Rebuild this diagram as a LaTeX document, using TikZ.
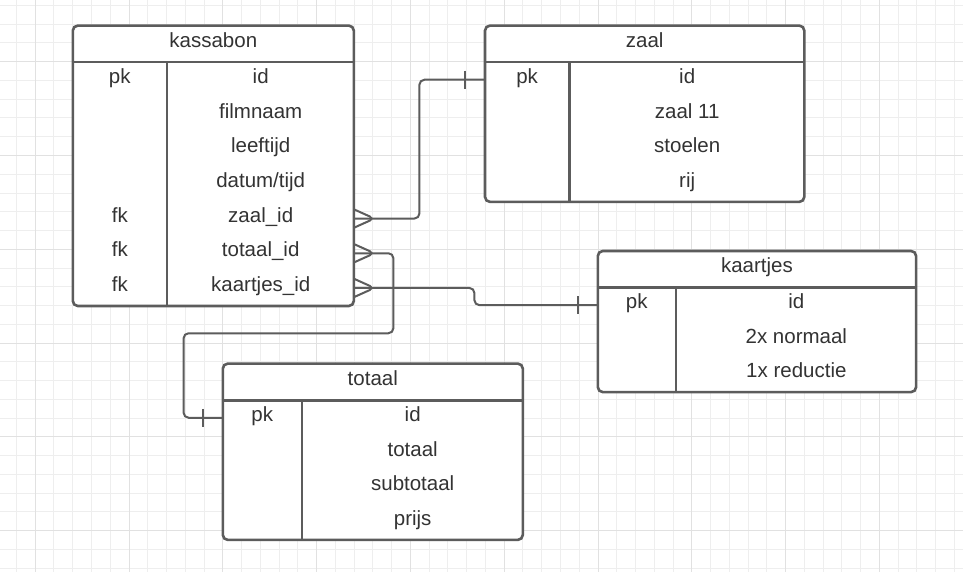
\documentclass[tikz,border=0pt]{standalone}
\usepackage{fontspec}
\setmainfont{Liberation Sans}
\usetikzlibrary{positioning}
\definecolor{ergrey}{RGB}{92,92,92}
\definecolor{ertext}{RGB}{51,51,51}
\definecolor{grminor}{RGB}{238,238,238}
\definecolor{grmajor}{RGB}{225,225,225}
\tikzset{
  tbl/.style={draw=ergrey, line width=2.6pt, fill=white, rounded corners=5pt,
              inner sep=0pt, anchor=north west},
  hdr/.style={inner sep=0pt, text height=22.8pt, text depth=14.7pt,
              text=ertext, anchor=north},
  cell/.style={inner sep=0pt, text height=21pt, text depth=13.7pt, text=ertext},
  tblline/.style={draw=ergrey, line width=2.6pt},
  link/.style={draw=ergrey, line width=2pt, rounded corners=5pt},
  gminor/.style={draw=grminor, line width=1pt},
  gmajor/.style={draw=grmajor, line width=1pt},
  many/.pic={\draw[link] (0,-9) -- (20,0) -- (0,9);},
  one/.pic={\draw[link] (0,-9) -- (0,9);},
}
\begin{document}
\begin{tikzpicture}[x=1pt, y=-1pt, font=\fontsize{20.5}{24}\selectfont]
\useasboundingbox[fill=white] (0,0) rectangle (963,572);
% grid
\foreach \i in {-6,...,44}
  \draw[gminor] ({129+18.76*\i},0) -- ({129+18.76*\i},572);
\foreach \j in {-2,...,28}
  \draw[gminor] (0,{530.7-18.76*\j}) -- (963,{530.7-18.76*\j});
\foreach \i in {-1,...,8}
  \draw[gmajor] ({129+93.8*\i},0) -- ({129+93.8*\i},572);
\foreach \j in {0,...,5}
  \draw[gmajor] (0,{530.7-93.8*\j}) -- (963,{530.7-93.8*\j});

% kassabon
\node[tbl, minimum width=281, minimum height=280.4] (kassabon) at (71.5,24.3) {};
\node[hdr, minimum width=281] (kb) at (kassabon.north) {kassabon};
\foreach \k/\f [count=\i] in {pk/id, /filmnaam, /leeftijd, /datum\slash tijd,
    fk/zaal\_id, fk/totaal\_id, fk/kaartjes\_id} {
  \node[cell, minimum width=94, anchor=north west, yshift={-(\i-1)*34.7pt}]
    (kb-k\i) at (kb.south west) {\k};
  \node[cell, minimum width=187, right=0pt of kb-k\i] (kb-f\i) {\f};
}
\draw[tblline] (kb.south west) -- (kb.south east);
\draw[tblline] (kb-k1.north east) -- (kb-k7.south east);

% zaal
\node[tbl, minimum width=319.3, minimum height=176.3] (zaal) at (483.7,24.3) {};
\node[hdr, minimum width=319.3] (zl) at (zaal.north) {zaal};
\foreach \k/\f [count=\i] in {pk/id, /zaal 11, /stoelen, /rij} {
  \node[cell, minimum width=84.3, anchor=north west, yshift={-(\i-1)*34.7pt}]
    (zl-k\i) at (zl.south west) {\k};
  \node[cell, minimum width=235, right=0pt of zl-k\i] (zl-f\i) {\f};
}
\draw[tblline] (zl.south west) -- (zl.south east);
\draw[tblline] (zl-k1.north east) -- (zl-k4.south east);

% kaartjes
\node[tbl, minimum width=318.3, minimum height=141.1] (kaartjes) at (596.5,249.7) {};
\node[hdr, minimum width=318.3] (ka) at (kaartjes.north) {kaartjes};
\foreach \k/\f [count=\i] in {pk/id, /2x normaal, /1x reductie} {
  \node[cell, minimum width=78, anchor=north west, yshift={-(\i-1)*34.5pt}]
    (ka-k\i) at (ka.south west) {\k};
  \node[cell, minimum width=240.3, right=0pt of ka-k\i] (ka-f\i) {\f};
}
\draw[tblline] (ka.south west) -- (ka.south east);
\draw[tblline] (ka-k1.north east) -- (ka-k3.south east);

% totaal
\node[tbl, minimum width=300, minimum height=176.3] (totaal) at (221.5,362.3) {};
\node[hdr, minimum width=300] (tt) at (totaal.north) {totaal};
\foreach \k/\f [count=\i] in {pk/id, /totaal, /subtotaal, /prijs} {
  \node[cell, minimum width=79, anchor=north west, yshift={-(\i-1)*34.7pt}]
    (tt-k\i) at (tt.south west) {\k};
  \node[cell, minimum width=221, right=0pt of tt-k\i] (tt-f\i) {\f};
}
\draw[tblline] (tt.south west) -- (tt.south east);
\draw[tblline] (tt-k1.north east) -- (tt-k4.south east);

% relations
\draw[link] (kb-f5.east) -- ++(65,0) |- (zl-k1.west);
\draw[link] (kb-f6.east) -- ++(39,0) -- ++(0,80) -| ([xshift=-39pt]tt-k1.west)
  -- (tt-k1.west);
\draw[link] (kb-f7.east) -- ++(120,0) |- (ka-k1.west);
\pic at (kb-f5.east) {many};
\pic at (kb-f6.east) {many};
\pic at (kb-f7.east) {many};
\pic at ([xshift=-20pt]zl-k1.west) {one};
\pic at ([xshift=-20pt]ka-k1.west) {one};
\pic at ([xshift=-20pt]tt-k1.west) {one};
\end{tikzpicture}
\end{document}
